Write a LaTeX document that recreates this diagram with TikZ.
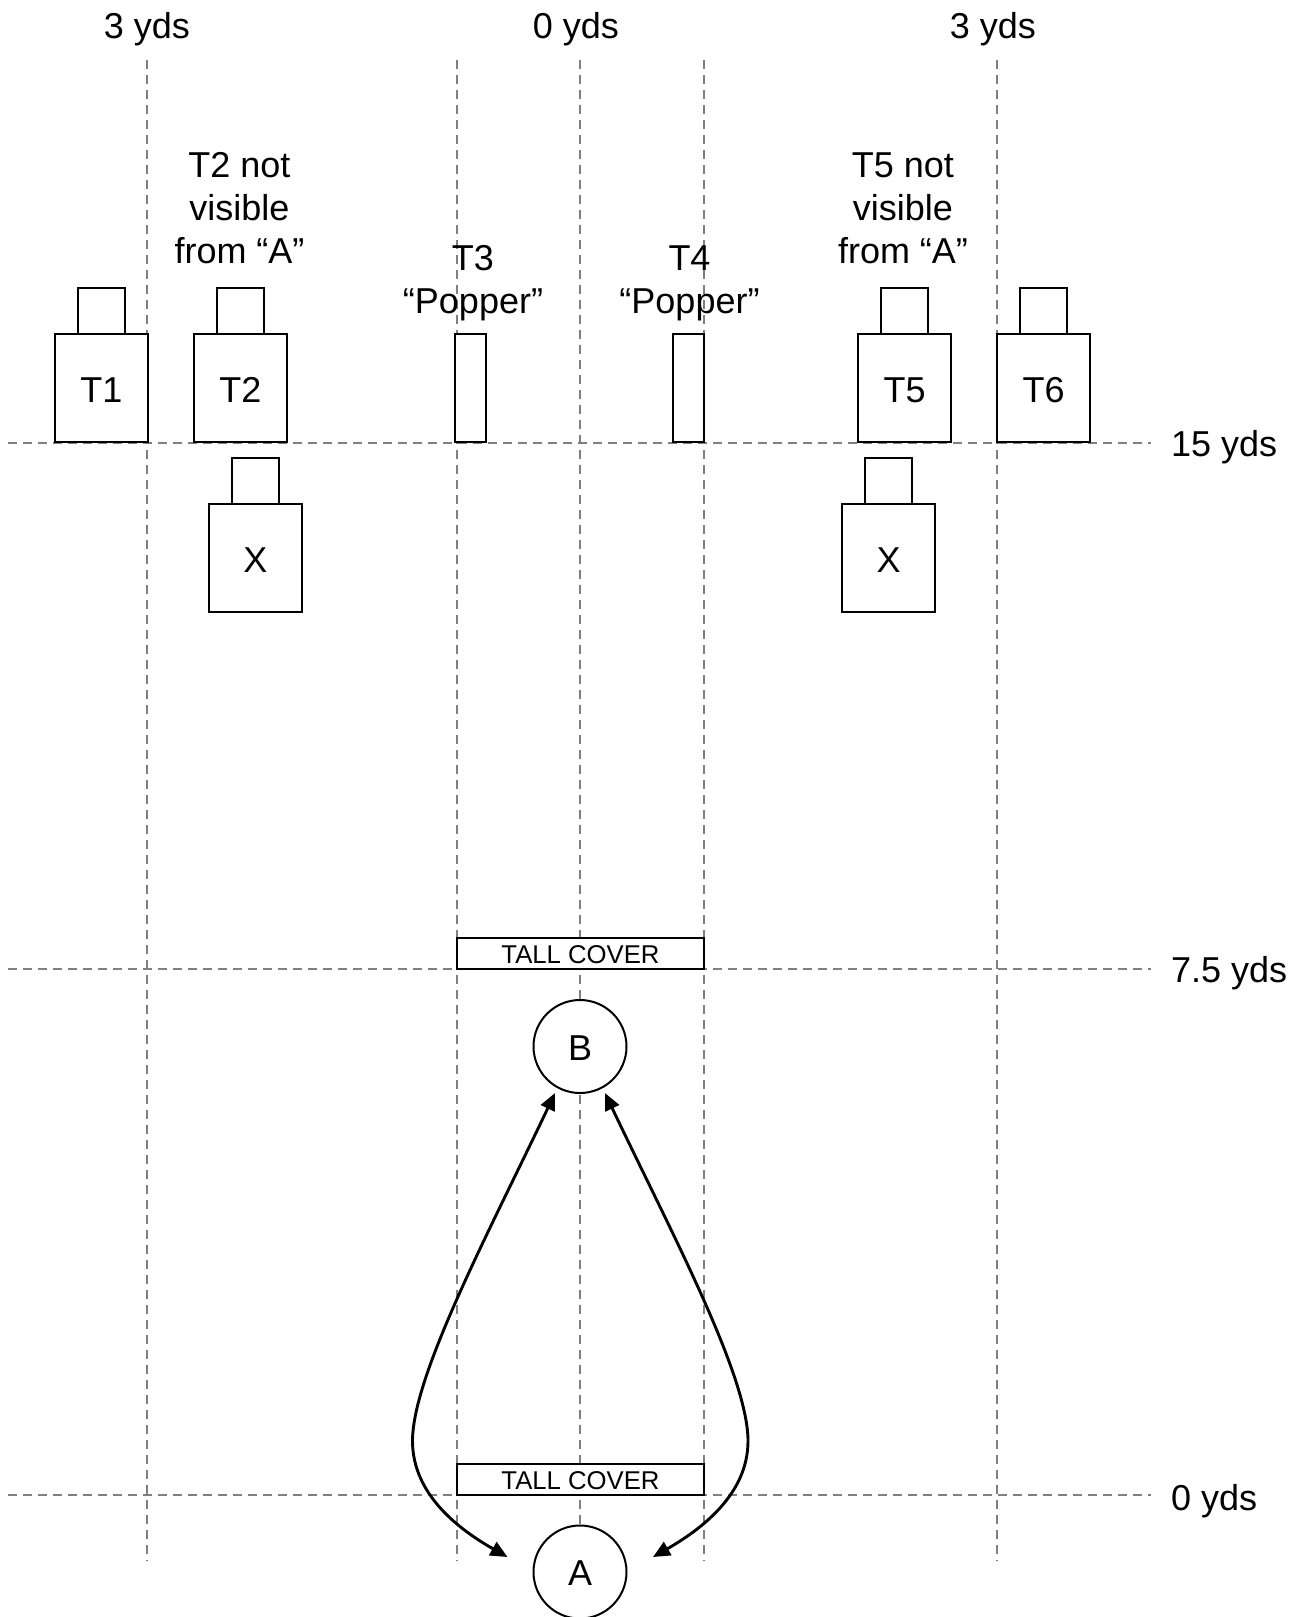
\documentclass[tikz,border=0pt]{standalone}
\usepackage{fontspec}
\setmainfont{Liberation Sans}
\usetikzlibrary{arrows.meta}
\definecolor{dashgray}{HTML}{808080}
\tikzset{
  guide/.style={draw=dashgray,line width=2.3pt,dash pattern=on 9pt off 6pt},
  bodybox/.style={draw=black,fill=white,line width=2pt,minimum width=93pt,minimum height=108pt,inner sep=0pt,text height=28.5pt,text depth=0pt,font=\fontsize{36}{43}\selectfont},
  headbox/.style={draw=black,fill=white,line width=2pt,minimum width=47pt,minimum height=46pt,inner sep=0pt},
  popperbox/.style={draw=black,fill=white,line width=2pt,minimum width=31pt,minimum height=108pt,inner sep=0pt},
  coverbox/.style={draw=black,fill=white,line width=2pt,minimum width=247pt,minimum height=31pt,inner sep=0pt,text height=20.5pt,text depth=0pt,font=\fontsize{25.7}{30}\selectfont},
  playerdot/.style={circle,draw=black,fill=white,line width=2pt,minimum size=93pt,inner sep=0pt,text height=27pt,text depth=0pt,font=\fontsize{36}{43}\selectfont},
  lab/.style={inner sep=0pt,font=\fontsize{36}{43}\selectfont,align=center},
  mover/.style={draw=black,line width=2.9pt,-{Triangle[length=17pt,width=15pt]}},
}
\begin{document}
\begin{tikzpicture}[x=1pt,y=-1pt]
\useasboundingbox (0,0) rectangle (1297,1617);
% guides
\foreach \n/\x in {va/147,vb/457,vc/580,vd/704,ve/997}{
  \coordinate (\n top) at (\x,60);
  \coordinate (\n bot) at (\x,1561);
  \draw[guide] (\n top) -- (\n bot);
}
\foreach \n/\y in {ha/443,hb/969,hc/1495}{
  \coordinate (\n left) at (8,\y);
  \coordinate (\n right) at (1151,\y);
  \draw[guide] (\n left) -- (\n right);
}
% top labels
\node[lab,anchor=base] (topa) at (147,38) {3 yds};
\node[lab,anchor=base] (topb) at (576,38) {0 yds};
\node[lab,anchor=base] (topc) at (993,38) {3 yds};
% side labels
\node[lab,anchor=base west] (side15) at (1171,456) {15 yds};
\node[lab,anchor=base west] (side75) at (1171,982) {7.5 yds};
\node[lab,anchor=base west] (side0) at (1171,1510) {0 yds};
% targets
\node[headbox] (h1) at (101.5,311) {};
\node[bodybox] (t1) at (101.5,388) {T1};
\node[headbox] (h2) at (240.5,311) {};
\node[bodybox] (t2) at (240.5,388) {T2};
\node[headbox] (h5) at (904.5,311) {};
\node[bodybox] (t5) at (904.5,388) {T5};
\node[headbox] (h6) at (1043.5,311) {};
\node[bodybox] (t6) at (1043.5,388) {T6};
\node[headbox] (hx1) at (255.5,481) {};
\node[bodybox] (x1) at (255.5,558) {X};
\node[headbox] (hx2) at (888.5,481) {};
\node[bodybox] (x2) at (888.5,558) {X};
\node[popperbox] (t3) at (470.5,388) {};
\node[popperbox] (t4) at (688,388) {};
% covers
\node[coverbox] (c1) at (580.5,953.5) {TALL COVER};
\node[coverbox] (c2) at (580.5,1479.5) {TALL COVER};
% players
\node[playerdot] (b) at (580,1046.5) {B};
\node[playerdot] (a) at (580,1572) {A};
% captions
\node[lab] (cap2) at (239.5,208.5) {T2 not\\visible\\from “A”};
\node[lab] (cap5) at (903,208.5) {T5 not\\visible\\from “A”};
\node[lab] (cap3) at (473,283) {T3\\“Popper”};
\node[lab] (cap4) at (689.5,283) {T4\\“Popper”};
% movement
\coordinate (al) at (507.5,1557);
\coordinate (ar) at (653,1557);
\coordinate (bl) at (555,1093);
\coordinate (br) at (605,1093);
\coordinate (wl) at (412.5,1441);
\coordinate (wr) at (748,1441);
\draw[mover] (wl) .. controls (412.5,1495) and (460,1530) .. (al);
\draw[mover] (wl) .. controls (412.5,1375) and (490,1230) .. (bl);
\draw[mover] (wr) .. controls (748,1495) and (700,1530) .. (ar);
\draw[mover] (wr) .. controls (748,1375) and (670,1230) .. (br);
\end{tikzpicture}
\end{document}
